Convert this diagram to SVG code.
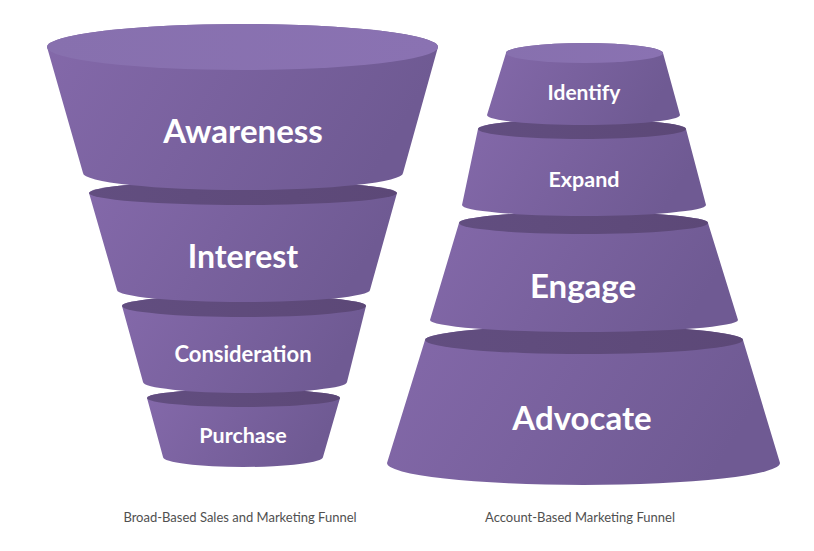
<svg xmlns="http://www.w3.org/2000/svg" width="814" height="551" viewBox="0 0 814 551">
<defs>
<linearGradient id="body" x1="0" y1="0" x2="1" y2="0.25">
<stop offset="0" stop-color="#8469aa"/>
<stop offset="1" stop-color="#6f5a93"/>
</linearGradient>
<linearGradient id="dark" x1="0" y1="0" x2="1" y2="0">
<stop offset="0" stop-color="#624e80"/>
<stop offset="1" stop-color="#5c4877"/>
</linearGradient>
<linearGradient id="light" x1="0" y1="0" x2="1" y2="0">
<stop offset="0" stop-color="#8770ae"/>
<stop offset="1" stop-color="#8a72b2"/>
</linearGradient>
</defs>
<style>
.body{fill:url(#body)}
.dark{fill:url(#dark)}
.light{fill:url(#light)}
.lbl{font-family:Lato,"Open Sans","Liberation Sans",sans-serif;font-weight:bold;fill:#ffffff;text-anchor:middle}
.cap{font-family:Lato,"Open Sans","Liberation Sans",sans-serif;font-size:13px;fill:#505050;text-anchor:middle}
</style>
<rect width="814" height="551" fill="#ffffff"/>

<!-- Left funnel: draw bottom-up -->
<g id="purchase">
<path class="body" d="M147,398 L163,457 A80,10 0 0 0 323,457 L340,398 A96.5,9 0 0 0 147,398 Z"/>
<ellipse class="dark" cx="243.5" cy="398" rx="96.5" ry="9"/>
<text class="lbl" x="243" y="443" font-size="21.5">Purchase</text>
</g>
<g id="consideration">
<path class="body" d="M122,306 L143,382 A102,11 0 0 0 347,382 L366,306 A122,11 0 0 0 122,306 Z"/>
<ellipse class="dark" cx="244" cy="306" rx="122" ry="11"/>
<text class="lbl" x="243" y="362" font-size="22">Consideration</text>
</g>
<g id="interest">
<path class="body" d="M89,193 L117,290 A126.5,12 0 0 0 370,290 L397,193 A154,12 0 0 0 89,193 Z"/>
<ellipse class="dark" cx="243" cy="193" rx="154" ry="12"/>
<text class="lbl" x="243" y="268" font-size="32">Interest</text>
</g>
<g id="awareness">
<path class="body" d="M47,47 L83,173 A160,17 0 0 0 403,173 L438,47 A195.5,23 0 0 0 47,47 Z"/>
<ellipse class="light" cx="242.5" cy="47" rx="195.5" ry="23"/>
<text class="lbl" x="243" y="143" font-size="33">Awareness</text>
</g>

<!-- Right funnel: draw bottom-up -->
<g id="advocate">
<path class="body" d="M425,340 L387,463 A196.5,22 0 0 0 780,463 L743,340 A159,14 0 0 0 425,340 Z"/>
<ellipse class="dark" cx="584" cy="340" rx="159" ry="14"/>
<text class="lbl" x="582" y="430" font-size="33">Advocate</text>
</g>
<g id="engage">
<path class="body" d="M459,223 L430,320 A154,12 0 0 0 738,320 L708,223 A124.5,11 0 0 0 459,223 Z"/>
<ellipse class="dark" cx="583.5" cy="223" rx="124.5" ry="11"/>
<text class="lbl" x="583" y="298" font-size="33">Engage</text>
</g>
<g id="expand">
<path class="body" d="M478,129 L462,205 A122,11 0 0 0 706,205 L686,129 A104,10 0 0 0 478,129 Z"/>
<ellipse class="dark" cx="582" cy="129" rx="104" ry="10"/>
<text class="lbl" x="584" y="187" font-size="21.5">Expand</text>
</g>
<g id="identify">
<path class="body" d="M506,53 L487,115 A96.5,10 0 0 0 680,115 L663,53 A78.5,10 0 0 0 506,53 Z"/>
<ellipse class="light" cx="584.5" cy="53" rx="78.5" ry="10"/>
<text class="lbl" x="584" y="100" font-size="21">Identify</text>
</g>

<g id="connectors"/>

<text class="cap" x="240" y="522">Broad-Based Sales and Marketing Funnel</text>
<text class="cap" x="580" y="522">Account-Based Marketing Funnel</text>
</svg>
